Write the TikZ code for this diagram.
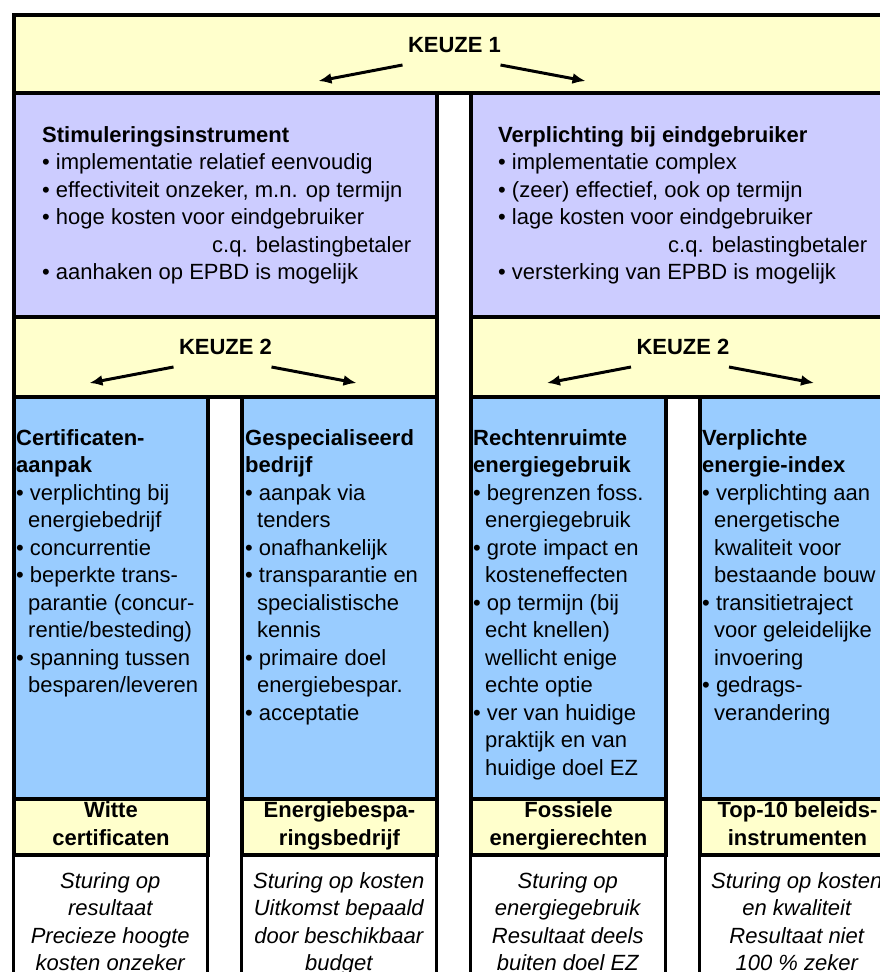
\documentclass[tikz,border=0pt]{standalone}
\usepackage{fontspec}
\setmainfont{Liberation Sans}
\usepackage{xcolor}
\usetikzlibrary{calc}
\usetikzlibrary{arrows.meta}
\definecolor{geel}{RGB}{255,255,204}
\definecolor{paars}{RGB}{204,204,255}
\definecolor{blauw}{RGB}{153,204,255}
\newcommand{\tekst}{\fontsize{22}{27.5}\selectfont}

\begin{document}
\begin{tikzpicture}[x=1pt, y=-1pt, >={Latex[length=13pt,width=11pt]}, font=\tekst]
    \tikzstyle{box}=[draw=black, line width=4pt, rectangle, inner sep=0pt, anchor=north west]
    \tikzstyle{wit}=[draw=black, line width=2.5pt, rectangle, inner sep=0pt, anchor=north west, fill=white]
    \tikzstyle{txt}=[inner sep=0pt, anchor=north west, align=left]
    \tikzstyle{keuze}=[inner sep=0pt, anchor=base, font=\tekst\bfseries]
    \tikzstyle{kop}=[inner sep=0pt, anchor=north, align=center, font=\tekst\bfseries]
    \tikzstyle{uit}=[inner sep=0pt, anchor=north, align=center, font=\tekst\itshape]
    \tikzstyle{pijl}=[->, line width=3pt]

    \useasboundingbox (0,0) rectangle (880,972);
    \clip (0,0) rectangle (880,972);

    %% Keuze 1
    \node[box, fill=geel, minimum width=881pt, minimum height=78pt] (k1) at (12,13) {};
    \node[keuze] (t1) at ($(k1.north)+(0,39)$) {KEUZE 1};

    %% Stimulering / verplichting
    \node[box, fill=paars, minimum width=423pt, minimum height=224pt] (sl) at (12,91) {};
    \node[box, fill=paars, minimum width=424pt, minimum height=224pt] (sr) at (469,91) {};
    \node[txt] (sltxt) at ($(sl.north west)+(30,35)$) {\textbf{Stimuleringsinstrument}\\
        • implementatie relatief eenvoudig\\
        • effectiviteit onzeker, m.n. op termijn\\
        • hoge kosten voor eindgebruiker\\
        \hspace*{170pt}c.q. belastingbetaler\\
        • aanhaken op EPBD is mogelijk};
    \node[txt] (srtxt) at ($(sr.north west)+(29,35)$) {\textbf{Verplichting bij eindgebruiker}\\
        • implementatie complex\\
        • (zeer) effectief, ook op termijn\\
        • lage kosten voor eindgebruiker\\
        \hspace*{170pt}c.q. belastingbetaler\\
        • versterking van EPBD is mogelijk};

    %% Keuze 2
    \node[box, fill=geel, minimum width=423pt, minimum height=80pt] (kl) at (12,315) {};
    \node[box, fill=geel, minimum width=424pt, minimum height=80pt] (kr) at (469,315) {};
    \node[keuze] (t2l) at ($(kl.north)+(0,39)$) {KEUZE 2};
    \node[keuze] (t2r) at ($(kr.north)+(0,39)$) {KEUZE 2};

    \foreach \k in {k1, kl, kr} {
        \coordinate (\k-l1) at ($(\k.north)+(-52,52)$);
        \coordinate (\k-l2) at ($(\k.north)+(-136,68)$);
        \coordinate (\k-r1) at ($(\k.north)+(46,52)$);
        \coordinate (\k-r2) at ($(\k.north)+(131,68)$);
        \draw[pijl] (\k-l1) -- (\k-l2);
        \draw[pijl] (\k-r1) -- (\k-r2);
    }

    %% Kolommen
    \foreach \x/\w [count=\i] in {12/194, 240/195, 469/195, 698/195} {
        \node[wit, minimum width=\w pt, minimum height=150pt] (w\i) at (\x,853) {};
        \node[box, fill=blauw, minimum width=\w pt, minimum height=402pt] (c\i) at (\x,395) {};
        \node[box, fill=geel, minimum width=\w pt, minimum height=56pt] (l\i) at (\x,797) {};
    }

    \node[txt] (c1txt) at ($(c1.north west)+(4,34)$) {\textbf{Certificaten-}\\
        \textbf{aanpak}\\
        • verplichting bij\\
        \hspace*{12pt}energiebedrijf\\
        • concurrentie\\
        • beperkte trans-\\
        \hspace*{12pt}parantie (concur-\\
        \hspace*{12pt}rentie/besteding)\\
        • spanning tussen\\
        \hspace*{12pt}besparen/leveren};
    \node[txt] (c2txt) at ($(c2.north west)+(5,34)$) {\textbf{Gespecialiseerd}\\
        \textbf{bedrijf}\\
        • aanpak via\\
        \hspace*{12pt}tenders\\
        • onafhankelijk\\
        • transparantie en\\
        \hspace*{12pt}specialistische\\
        \hspace*{12pt}kennis\\
        • primaire doel\\
        \hspace*{12pt}energiebespar.\\
        • acceptatie};
    \node[txt] (c3txt) at ($(c3.north west)+(4,34)$) {\textbf{Rechtenruimte}\\
        \textbf{energiegebruik}\\
        • begrenzen foss.\\
        \hspace*{12pt}energiegebruik\\
        • grote impact en\\
        \hspace*{12pt}kosteneffecten\\
        • op termijn (bij\\
        \hspace*{12pt}echt knellen)\\
        \hspace*{12pt}wellicht enige\\
        \hspace*{12pt}echte optie\\
        • ver van huidige\\
        \hspace*{12pt}praktijk en van\\
        \hspace*{12pt}huidige doel EZ};
    \node[txt] (c4txt) at ($(c4.north west)+(4,34)$) {\textbf{Verplichte}\\
        \textbf{energie-index}\\
        • verplichting aan\\
        \hspace*{12pt}energetische\\
        \hspace*{12pt}kwaliteit voor\\
        \hspace*{12pt}bestaande bouw\\
        • transitietraject\\
        \hspace*{12pt}voor geleidelijke\\
        \hspace*{12pt}invoering\\
        • gedrags-\\
        \hspace*{12pt}verandering};

    %% Instrumenten
    \node[kop] (l1txt) at ($(l1.north)+(0,4.5)$) {Witte\\certificaten};
    \node[kop] (l2txt) at ($(l2.north)+(0,4.5)$) {Energiebespa-\\ringsbedrijf};
    \node[kop] (l3txt) at ($(l3.north)+(0,4.5)$) {Fossiele\\energierechten};
    \node[kop] (l4txt) at ($(l4.north)+(0,4.5)$) {Top-10 beleids-\\instrumenten};

    %% Sturing
    \node[uit] (w1txt) at ($(w1.north)+(0,19)$) {Sturing op\\resultaat\\Precieze hoogte\\kosten onzeker};
    \node[uit] (w2txt) at ($(w2.north)+(0,19)$) {Sturing op kosten\\Uitkomst bepaald\\door beschikbaar\\budget};
    \node[uit] (w3txt) at ($(w3.north)+(0,19)$) {Sturing op\\energiegebruik\\Resultaat deels\\buiten doel EZ};
    \node[uit] (w4txt) at ($(w4.north)+(0,19)$) {Sturing op kosten\\en kwaliteit\\Resultaat niet\\100 \% zeker};
\end{tikzpicture}
\end{document}
